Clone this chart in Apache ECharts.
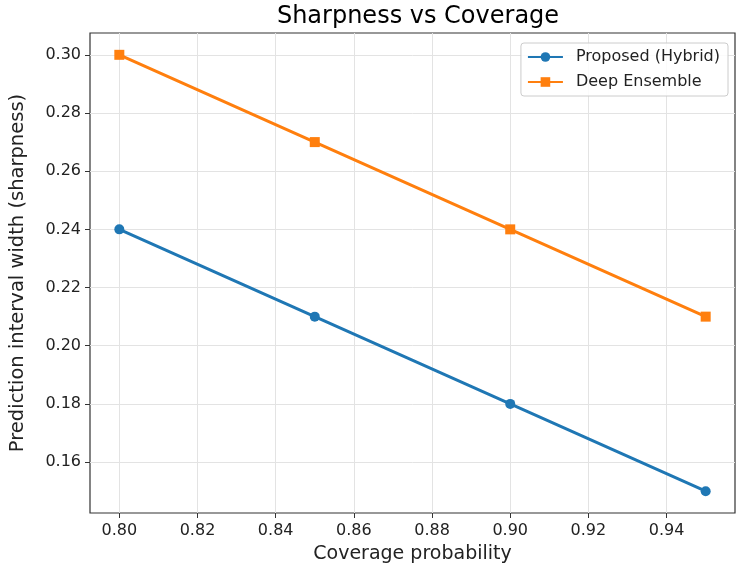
<!DOCTYPE html>
<html>
<head>
<meta charset="utf-8">
<script src="https://cdn.jsdelivr.net/npm/echarts@6/dist/echarts.min.js"></script>
<style>html,body{margin:0;padding:0;background:#fff}#main{width:753px;height:572px}</style>
</head>
<body>
<div id="main"></div>
<script>
var coverage = [0.80, 0.85, 0.90, 0.95];
var proposed = [0.24, 0.21, 0.18, 0.15];
var deepEnsemble = [0.30, 0.27, 0.24, 0.21];
var xTicks = [0.80, 0.82, 0.84, 0.86, 0.88, 0.90, 0.92, 0.94];
var yTicks = [0.16, 0.18, 0.20, 0.22, 0.24, 0.26, 0.28, 0.30];

var font = 'DejaVu Sans';

function pairs(ys) {
    return coverage.map(function (x, i) { return [x, ys[i]]; });
}

var option = {
    backgroundColor: '#fff',
    animation: false,
    title: {
        text: 'Sharpness vs Coverage',
        left: 413, top: 0, textAlign: 'center',
        textStyle: { fontFamily: font, fontSize: 24, fontWeight: 'normal', color: '#000' }
    },
    grid: { left: 90, right: 18, top: 33, bottom: 59, show: true, borderColor: '#333', borderWidth: 1.2 },
    legend: {
        orient: 'vertical',
        right: 25, top: 43,
        padding: [6, 8, 6, 6],
        backgroundColor: 'rgba(255,255,255,0.85)',
        borderColor: '#ccc', borderWidth: 1, borderRadius: 3,
        itemWidth: 35, itemHeight: 12, itemGap: 9,
        textStyle: { fontFamily: font, fontSize: 16, color: '#222', padding: [0, 0, 0, 8] },
        data: ['Proposed (Hybrid)', 'Deep Ensemble']
    },
    xAxis: {
        type: 'value', min: 0.7925, max: 0.9575,
        name: 'Coverage probability', nameLocation: 'middle', nameGap: 32,
        nameTextStyle: { fontFamily: font, fontSize: 19, color: '#222' },
        axisLine: { show: false },
        axisTick: { show: true, customValues: xTicks, length: 5, lineStyle: { color: '#333' } },
        axisLabel: { customValues: xTicks, fontFamily: font, fontSize: 16, color: '#222', margin: 10,
            formatter: function (v) { return v.toFixed(2); } },
        splitLine: { show: true, lineStyle: { color: '#e3e3e3', width: 1 } }
    },
    yAxis: {
        type: 'value', min: 0.1425, max: 0.3075,
        name: 'Prediction interval width (sharpness)', nameLocation: 'middle', nameGap: 62,
        nameTextStyle: { fontFamily: font, fontSize: 19.5, color: '#222' },
        axisLine: { show: false },
        axisTick: { show: true, customValues: yTicks, length: 5, lineStyle: { color: '#333' } },
        axisLabel: { customValues: yTicks, fontFamily: font, fontSize: 16, color: '#222', margin: 9,
            formatter: function (v) { return v.toFixed(2); } },
        splitLine: { show: true, lineStyle: { color: '#e3e3e3', width: 1 } }
    },
    series: [
        {
            name: 'Proposed (Hybrid)', type: 'line',
            data: pairs(proposed),
            symbol: 'circle', symbolSize: 10,
            lineStyle: { color: '#1f77b4', width: 3 },
            itemStyle: { color: '#1f77b4' }
        },
        {
            name: 'Deep Ensemble', type: 'line',
            data: pairs(deepEnsemble),
            symbol: 'rect', symbolSize: 10,
            lineStyle: { color: '#ff7f0e', width: 3 },
            itemStyle: { color: '#ff7f0e' }
        }
    ]
};

var myChart = echarts.init(document.getElementById('main'));
myChart.setOption(option);
</script>
</body>
</html>
